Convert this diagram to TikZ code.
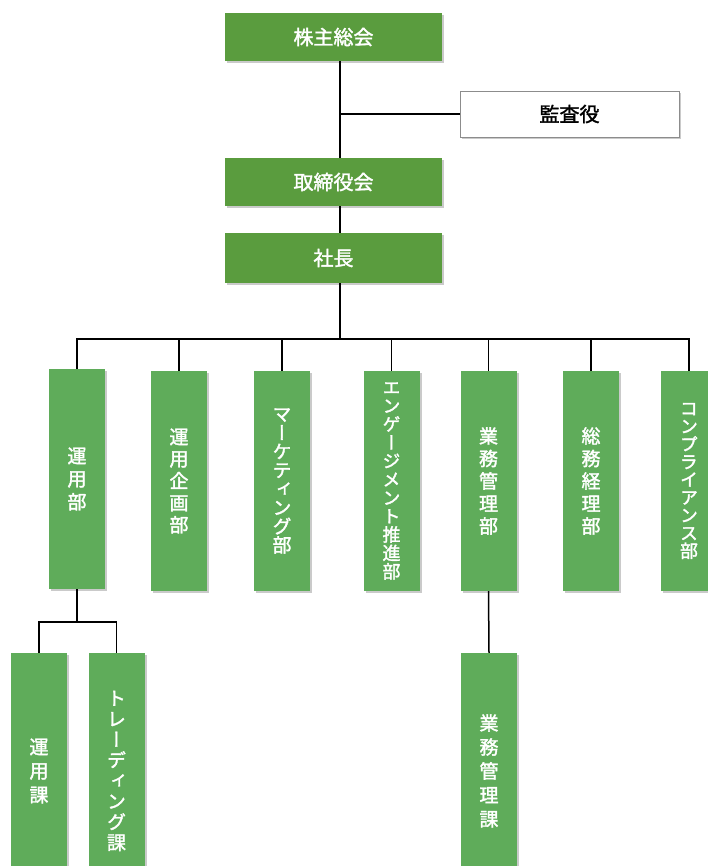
\documentclass[tikz,border=0pt]{standalone}
\usepackage{fontspec}
\newfontfamily\jp{Noto Sans CJK JP}[FakeBold=1.8]
\newfontfamily\jpv{Noto Sans CJK JP}[RawFeature=+vert,FakeBold=1.8]
\usetikzlibrary{shadows}
\definecolor{topgreen}{RGB}{90,156,62}
\definecolor{subgreen}{RGB}{95,172,90}
\begin{document}
\begin{tikzpicture}[x=1pt,y=-1pt,
  boxshadow/.style={drop shadow={shadow xshift=2pt,shadow yshift=-2pt,fill=black!35,opacity=0.6}},
  hbox/.style={fill=topgreen,text=white,inner sep=0pt,minimum width=217pt,minimum height=48pt,
    font=\jp\fontsize{20}{22}\selectfont,boxshadow},
  kbox/.style={fill=white,draw=black!45,line width=0.8pt,text=black,inner sep=0pt,minimum width=219pt,
    minimum height=46pt,font=\jp\fontsize{20}{22}\selectfont,boxshadow},
  vbox/.style={fill=subgreen,text=white,inner sep=0pt,minimum width=56pt,minimum height=220pt,
    align=center,font=\jpv\fontsize{19}{22}\selectfont,boxshadow},
  sbox/.style={vbox,minimum height=236pt},
  link/.style={draw=black,line width=1.5pt}]
\useasboundingbox (0,0) rectangle (708,866);
% top chain
\node[hbox] (soukai) at (333.5,37) {株主総会};
\node[kbox] (kansa) at (569.5,114) {監査役};
\node[hbox] (tori) at (333.5,182) {取締役会};
\node[hbox,minimum height=50pt] (shacho) at (333.5,258) {社長};
\coordinate (trunk) at (340,0);
\coordinate (bus) at (0,339);
\coordinate (br) at (0,622);
% departments
\node[vbox,font=\jpv\fontsize{19}{23}\selectfont] (unyo) at (77,479) {運\\用\\部};
\node[vbox] (kikaku) at (179,481) {運\\用\\企\\画\\部};
\node[vbox,font=\jpv\fontsize{19}{18.7}\selectfont] (mkt) at (282,481) {マ\\ー\\ケ\\テ\\ィ\\ン\\グ\\部};
\node[vbox,font=\jpv\fontsize{18}{18.4}\selectfont] (eng) at (391.5,481) {エ\\ン\\ゲ\\ー\\ジ\\メ\\ン\\ト\\推\\進\\部};
\node[vbox,font=\jpv\fontsize{19}{22.5}\selectfont] (gyomu) at (488.5,481) {業\\務\\管\\理\\部};
\node[vbox,font=\jpv\fontsize{19}{22.5}\selectfont] (soumu) at (591,481) {総\\務\\経\\理\\部};
\node[vbox,font=\jpv\fontsize{18}{17.8}\selectfont] (comp) at (689,481) {コ\\ン\\プ\\ラ\\イ\\ア\\ン\\ス\\部};
% sections
\node[sbox,font=\jpv\fontsize{19}{24}\selectfont] (unyoka) at (39,771) {運\\用\\課};
\node[sbox,font=\jpv\fontsize{19}{20.6}\selectfont] (trade) at (116.5,771) {ト\\レ\\ー\\デ\\ィ\\ン\\グ\\課};
\node[sbox,font=\jpv\fontsize{19}{24}\selectfont] (gyoka) at (489,771) {業\\務\\管\\理\\課};
% connectors
\draw[link] (trunk |- soukai.south) -- (trunk |- tori.north);
\draw[link] (trunk |- kansa.west) -- (kansa.west);
\draw[link] (trunk |- tori.south) -- (trunk |- shacho.north);
\draw[link] (trunk |- shacho.south) -- (trunk |- bus);
\draw[link] (unyo.north) -- (unyo.north |- bus) -- (comp.north |- bus) -- (comp.north);
\foreach \n in {kikaku,mkt,eng,gyomu,soumu}
  \draw[link] (\n.north) -- (\n.north |- bus);
\draw[link] (unyo.south) -- (unyo.south |- br);
\draw[link] (unyoka.north) -- (unyoka.north |- br) -- (trade.north |- br) -- (trade.north);
\draw[link] (gyomu.south) -- (gyoka.north);
\end{tikzpicture}
\end{document}
